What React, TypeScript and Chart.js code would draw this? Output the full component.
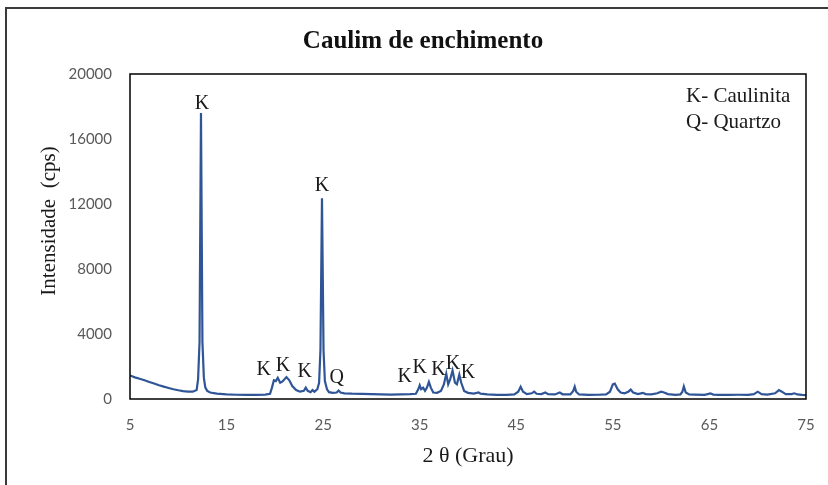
import React, { useEffect, useRef } from 'react';
import { Chart, registerables } from 'chart.js';

Chart.register(...registerables);

const TITLE = 'Caulim de enchimento';
const X_TITLE = '2 θ (Grau)';
const Y_TITLE = 'Intensidade  (cps)';

const twoTheta = [
  5, 5.5, 6, 6.5, 7, 7.5, 8, 8.5, 9, 9.5, 10, 10.5, 11, 11.5, 11.9, 12.05, 12.2, 12.35, 12.5, 12.65, 12.8, 13.0, 13.3,
  14, 15, 16, 17, 18, 19, 19.5, 19.7, 19.9, 20.1, 20.3, 20.55, 20.8, 21.2, 21.5, 21.8, 22.2, 22.6, 23.0, 23.2, 23.4, 23.7,
  23.9, 24.1, 24.4, 24.58, 24.72, 24.88, 25.04, 25.18, 25.4, 25.6, 26.0, 26.4, 26.6, 26.8, 27.2, 28, 29, 30, 31, 32, 33, 34,
  34.6, 34.85, 35.0, 35.15, 35.35, 35.55, 35.75, 35.95, 36.15, 36.4, 36.8, 37.2, 37.5, 37.75, 37.95, 38.15, 38.4, 38.65,
  38.85, 39.1, 39.3, 39.6, 40.0, 40.6, 41.1, 41.3, 42, 43, 44, 44.8, 45.2, 45.45, 45.7, 46.1, 46.6, 46.85, 47.1, 47.6, 48.0,
  48.3, 49.0, 49.5, 49.8, 50.6, 50.9, 51.05, 51.2, 51.5, 52.5, 53.5, 54.3, 54.7, 55.0, 55.2, 55.5, 55.8, 56.2, 56.6, 56.85,
  57.1, 57.6, 58.1, 58.4, 59.0, 59.6, 60.0, 60.3, 60.7, 61.5, 62.0, 62.2, 62.35, 62.55, 62.9, 63.5, 64.5, 65.1, 65.4, 66,
  67, 68, 69, 69.6, 70.0, 70.4, 71, 71.8, 72.2, 72.5, 72.9, 73.5, 73.8, 74.1, 74.6, 75,
];

const intensity = [
  1450, 1330, 1250, 1150, 1050, 950, 850, 760, 680, 600, 540, 490, 450, 450, 550, 1200, 3500, 17600, 3500, 1300, 700, 500, 400,
  330, 280, 260, 250, 250, 270, 320, 700, 1150, 1100, 1300, 1000, 1080, 1350, 1150, 800, 550, 450, 500, 700, 500, 420,
  550, 450, 600, 1000, 3000, 12350, 3000, 1100, 600, 420, 380, 400, 520, 400, 350, 330, 320, 300, 280, 270, 280, 300,
  320, 600, 850, 600, 700, 500, 700, 1050, 700, 400, 380, 500, 900, 1550, 900, 1200, 1750, 1000,
  900, 1500, 1000, 500, 380, 330, 400, 330, 280, 260, 260, 280, 450, 750, 450, 300, 350, 450, 320, 300, 400,
  300, 280, 400, 290, 280, 500, 760, 450, 280, 250, 260, 280, 450, 900, 950, 600, 400, 350, 450, 580,
  400, 300, 380, 300, 280, 350, 450, 400, 300, 260, 280, 450, 780, 400, 280, 270, 260, 350, 270, 250,
  250, 260, 260, 300, 450, 300, 270, 350, 550, 450, 300, 300, 350, 280, 250, 240,
];

const peakLabels = ['K', 'K', 'K', 'K', 'K', 'Q', 'K', 'K', 'K', 'K', 'K'];
const peakLabelX = [12.46, 24.88, 18.85, 20.85, 23.1, 26.4, 33.45, 35.0, 36.95, 38.45, 40.0];
const peakLabelY = [18200, 13150, 1800, 2050, 1670, 1300, 1380, 1900, 1800, 2200, 1640];

const legendLines = ['K- Caulinita', 'Q- Quartzo'];

const xTicks = [5, 15, 25, 35, 45, 55, 65, 75];
const yTicks = [0, 4000, 8000, 12000, 16000, 20000];

const SERIF = '"Liberation Serif", "Times New Roman", serif';
const SANS = 'Lato, "Liberation Sans", sans-serif';

const decorPlugin = {
  id: 'decor',
  beforeDraw(chart: any) {
    const ctx = chart.ctx;
    ctx.save();
    ctx.fillStyle = '#ffffff';
    ctx.fillRect(0, 0, chart.width, chart.height);
    ctx.strokeStyle = '#3a3a3a';
    ctx.lineWidth = 2;
    ctx.beginPath();
    ctx.moveTo(6, chart.height);
    ctx.lineTo(6, 8);
    ctx.lineTo(chart.width, 8);
    ctx.stroke();
    ctx.restore();
  },
  afterDatasetsDraw(chart: any) {
    const ctx = chart.ctx;
    const { left, top, right, bottom } = chart.chartArea;
    const xs = chart.scales.x;
    const ys = chart.scales.y;
    ctx.save();
    ctx.strokeStyle = '#000000';
    ctx.lineWidth = 1.5;
    ctx.strokeRect(left, top, right - left, bottom - top);

    ctx.fillStyle = '#1a1a1a';
    ctx.font = `20px ${SERIF}`;
    ctx.textAlign = 'center';
    ctx.textBaseline = 'middle';
    peakLabels.forEach((t, i) => {
      ctx.fillText(t, xs.getPixelForValue(peakLabelX[i]), ys.getPixelForValue(peakLabelY[i]));
    });

    ctx.font = `21px ${SERIF}`;
    ctx.textAlign = 'left';
    ctx.textBaseline = 'alphabetic';
    legendLines.forEach((t, i) => {
      ctx.fillText(t, right - 120, top + 28 + i * 26);
    });
    ctx.restore();
  },
  afterDraw(chart: any) {
    const ctx = chart.ctx;
    const { left, top, right, bottom } = chart.chartArea;
    ctx.save();
    ctx.fillStyle = '#111111';
    ctx.textAlign = 'center';
    ctx.textBaseline = 'alphabetic';
    ctx.font = `bold 25px ${SERIF}`;
    ctx.fillText(TITLE, 423, top - 26);

    ctx.font = `22px ${SERIF}`;
    ctx.fillStyle = '#1a1a1a';
    ctx.fillText(X_TITLE, (left + right) / 2, bottom + 63);

    ctx.translate(49, 221);
    ctx.rotate(-Math.PI / 2);
    ctx.textBaseline = 'middle';
    ctx.font = `21px ${SERIF}`;
    ctx.fillText(Y_TITLE, 0, 0);
    ctx.restore();
  },
};

export default function App() {
  const ref = useRef<HTMLCanvasElement | null>(null);

  useEffect(() => {
    if (!ref.current) return;
    const points = twoTheta.map((x, i) => ({ x, y: intensity[i] }));
    const tickFont = { family: SANS, size: 15 };
    const chart = new Chart(ref.current, {
      type: 'line',
      data: {
        datasets: [
          {
            data: points,
            borderColor: '#2F5597',
            borderWidth: 2.2,
            pointRadius: 0,
            tension: 0,
            fill: false,
          },
        ],
      },
      options: {
        responsive: false,
        animation: false,
        layout: { padding: { top: 74, right: 22, bottom: 0, left: 0 } },
        plugins: {
          legend: { display: false },
          tooltip: { enabled: false },
          title: { display: false },
        },
        scales: {
          x: {
            type: 'linear',
            min: 5,
            max: 75,
            afterBuildTicks: (s: any) => {
              s.ticks = xTicks.map((v) => ({ value: v }));
            },
            afterFit: (s: any) => {
              s.height = 86;
            },
            grid: { display: false },
            border: { display: false },
            ticks: { font: tickFont, color: '#595959', padding: 9, maxRotation: 0, autoSkip: false },
          },
          y: {
            type: 'linear',
            min: 0,
            max: 20000,
            afterBuildTicks: (s: any) => {
              s.ticks = yTicks.map((v) => ({ value: v }));
            },
            afterFit: (s: any) => {
              s.width = 130;
            },
            grid: { display: false },
            border: { display: false },
            ticks: { font: tickFont, color: '#595959', padding: 10, autoSkip: false, callback: (v: any) => String(v) },
          },
        },
      },
      plugins: [decorPlugin],
    } as any);
    return () => chart.destroy();
  }, []);

  return (
    <div style={{ position: 'absolute', left: 0, top: 0, width: 828, height: 485, background: '#fff' }}>
      <canvas ref={ref} width={828} height={485} style={{ display: 'block' }} />
    </div>
  );
}
